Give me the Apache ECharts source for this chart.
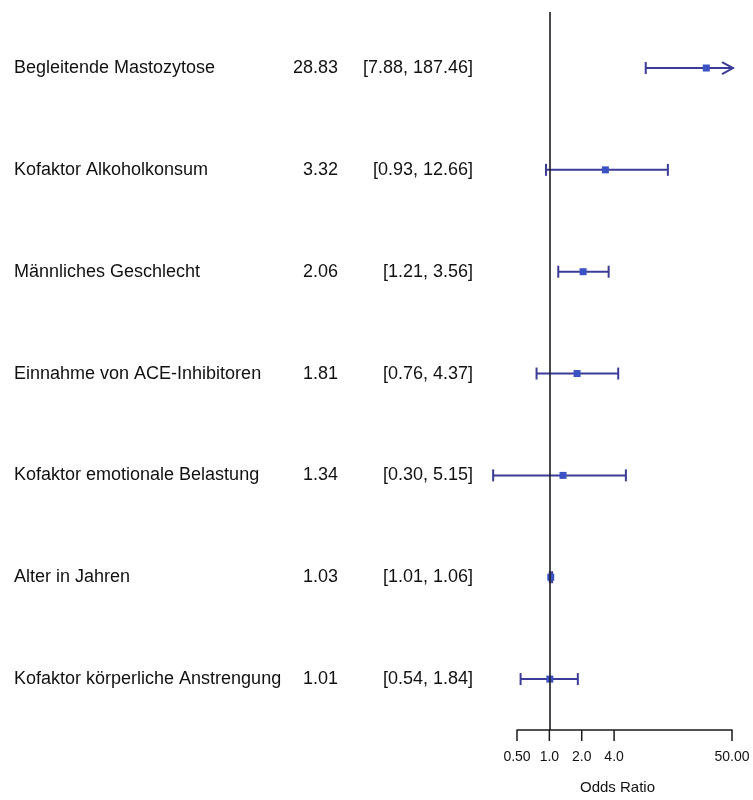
<!DOCTYPE html>
<html>
<head>
<meta charset="utf-8">
<script src="https://cdn.jsdelivr.net/npm/echarts@6/dist/echarts.min.js"></script>
<style>
  html, body { margin: 0; padding: 0; background: #ffffff; }
  #chart { width: 753px; height: 800px; }
</style>
</head>
<body>
<div id="chart"></div>
<script>
// Risk factors, listed top to bottom
const factors = [
  'Begleitende Mastozytose',
  'Kofaktor Alkoholkonsum',
  'Männliches Geschlecht',
  'Einnahme von ACE-Inhibitoren',
  'Kofaktor emotionale Belastung',
  'Alter in Jahren',
  'Kofaktor körperliche Anstrengung'
];
const oddsRatio = [28.83, 3.32, 2.06, 1.81, 1.34, 1.03, 1.01];
const ciLower   = [7.88, 0.93, 1.21, 0.76, 0.30, 1.01, 0.54];
const ciUpper   = [187.46, 12.66, 3.56, 4.37, 5.15, 1.06, 1.84];

// Odds ratio axis
const axisMin = 0.5;
const axisMax = 50;
const tickValues = [0.5, 1, 2, 4, 50];
const tickLabels = ['0.50', '1.0', '2.0', '4.0', '50.00'];

const FONT = '"Liberation Sans", Arial, sans-serif';
const TEXT_COLOR = '#111111';
const LINE_COLOR = '#3c3c98';
const POINT_COLOR = '#3a52c4';
const nRows = factors.length;

// row index: top factor gets the highest value on the hidden y axis
const forestData = factors.map((f, i) => [oddsRatio[i], nRows - i, ciLower[i], ciUpper[i]]);
const textData = factors.map((f, i) => [1, nRows - i, i]);
const tickData = tickValues.map((v, i) => [v, 0.5, i]);

const chart = echarts.init(document.getElementById('chart'), null, { renderer: 'canvas' });

chart.setOption({
  animation: false,
  backgroundColor: '#ffffff',
  grid: { left: 517, right: 21, top: 12, bottom: 58, containLabel: false },
  xAxis: {
    type: 'log',
    logBase: 10,
    min: axisMin,
    max: axisMax,
    axisLine: { show: true, lineStyle: { color: '#1a1a1a', width: 1.5 } },
    axisTick: { show: false },
    axisLabel: { show: false },
    splitLine: { show: false },
    name: 'Odds Ratio',
    nameLocation: 'middle',
    nameGap: 50,
    nameTextStyle: { fontFamily: FONT, fontSize: 15, color: TEXT_COLOR, padding: [0, 14, 0, 0] }
  },
  yAxis: {
    type: 'value',
    min: 0.5,
    max: 7.55,
    show: false
  },
  series: [
    {
      // confidence intervals and point estimates
      type: 'custom',
      coordinateSystem: 'cartesian2d',
      clip: false,
      encode: { x: 0, y: 1 },
      data: forestData,
      renderItem: function (params, api) {
        const or = api.value(0), row = api.value(1);
        const lo = api.value(2), hi = api.value(3);
        const clipped = hi > axisMax;
        const p = api.coord([or, row]);
        const pl = api.coord([lo, row]);
        const ph = api.coord([clipped ? axisMax : hi, row]);
        const y = p[1];
        const cap = 6;
        const lineStyle = { stroke: LINE_COLOR, lineWidth: 2 };
        const children = [];
        const xEnd = clipped ? ph[0] + 1 : ph[0];
        children.push({ type: 'line', shape: { x1: pl[0], y1: y, x2: xEnd, y2: y }, style: lineStyle });
        children.push({ type: 'line', shape: { x1: pl[0], y1: y - cap, x2: pl[0], y2: y + cap }, style: lineStyle });
        if (clipped) {
          children.push({
            type: 'polyline',
            shape: { points: [[xEnd - 11, y - 6], [xEnd, y], [xEnd - 11, y + 6]] },
            style: { stroke: LINE_COLOR, lineWidth: 2, fill: null }
          });
        } else {
          children.push({ type: 'line', shape: { x1: ph[0], y1: y - cap, x2: ph[0], y2: y + cap }, style: lineStyle });
        }
        const s = 7;
        children.push({ type: 'rect', shape: { x: p[0] - s / 2, y: y - s / 2, width: s, height: s }, style: { fill: POINT_COLOR } });
        return { type: 'group', children: children };
      },
      markLine: {
        silent: true,
        symbol: 'none',
        label: { show: false },
        lineStyle: { color: '#1c1c28', width: 1.6, type: 'solid' },
        data: [{ xAxis: 1 }]
      },
      z: 3
    },
    {
      // factor names, estimates and intervals as text columns
      type: 'custom',
      coordinateSystem: 'cartesian2d',
      clip: false,
      encode: { x: 0, y: 1 },
      data: textData,
      renderItem: function (params, api) {
        const i = api.value(2);
        const y = api.coord([1, api.value(1)])[1];
        const st = { fontFamily: FONT, fontSize: 18, fill: TEXT_COLOR, textVerticalAlign: 'middle' };
        return {
          type: 'group',
          children: [
            { type: 'text', x: 14, y: y, style: Object.assign({ text: factors[i], textAlign: 'left' }, st) },
            { type: 'text', x: 338, y: y, style: Object.assign({ text: oddsRatio[i].toFixed(2), textAlign: 'right' }, st) },
            { type: 'text', x: 473, y: y, style: Object.assign({ text: '[' + ciLower[i].toFixed(2) + ', ' + ciUpper[i].toFixed(2) + ']', textAlign: 'right' }, st) }
          ]
        };
      }
    },
    {
      // axis ticks and their labels
      type: 'custom',
      coordinateSystem: 'cartesian2d',
      clip: false,
      encode: { x: 0, y: 1 },
      data: tickData,
      renderItem: function (params, api) {
        const p = api.coord([api.value(0), api.value(1)]);
        const i = api.value(2);
        return {
          type: 'group',
          children: [
            { type: 'line', shape: { x1: p[0], y1: p[1], x2: p[0], y2: p[1] + 11 }, style: { stroke: '#1a1a1a', lineWidth: 1.5 } },
            { type: 'text', x: p[0], y: p[1] + 27, style: { text: tickLabels[i], textAlign: 'center', textVerticalAlign: 'middle', fontFamily: FONT, fontSize: 14, fill: TEXT_COLOR } }
          ]
        };
      }
    }
  ]
});
</script>
</body>
</html>
